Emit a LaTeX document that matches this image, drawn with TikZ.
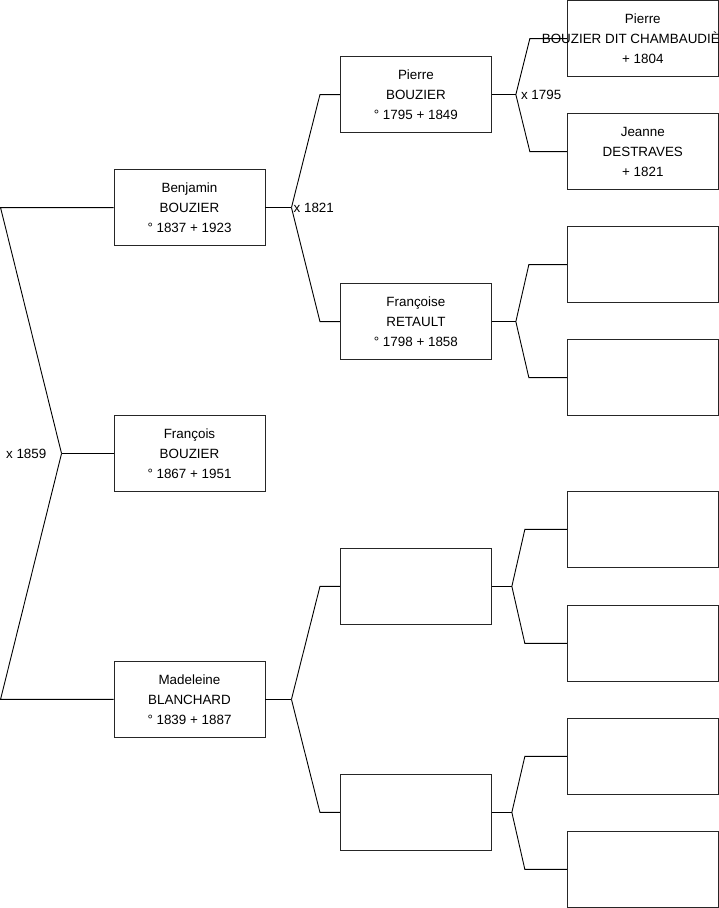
\documentclass[tikz,border=0pt]{standalone}
\usepackage{fontspec}
\setmainfont{Liberation Sans}
\usetikzlibrary{positioning}

\begin{document}
\begin{tikzpicture}[x=1pt,y=-1pt,
  person/.style={draw=black!85,line width=0.9pt,align=center,inner sep=0pt,
    minimum width=151pt,minimum height=76pt,
    font=\fontsize{13.4}{20}\selectfont},
  link/.style={draw=black,line width=0.9pt},
  mar/.style={inner sep=2pt,font=\fontsize{13.4}{20}\selectfont},
  node distance=74.5pt]
 \useasboundingbox (0,0) rectangle (719,908);
 % generation 0 and 1
 \node[person] (francois) at (189.5,453.5) {François\\BOUZIER\\° 1867 + 1951};
 \node[person,above=169pt of francois] (benjamin) {Benjamin\\BOUZIER\\° 1837 + 1923};
 \node[person,below=169pt of francois] (madeleine) {Madeleine\\BLANCHARD\\° 1839 + 1887};
 % generation 2
 \node[person,right=of benjamin,yshift=113pt] (pierre) {Pierre\\BOUZIER\\° 1795 + 1849};
 \node[person,right=of benjamin,yshift=-114pt] (francoise) {Françoise\\RETAULT\\° 1798 + 1858};
 \node[person,right=of madeleine,yshift=113pt] (mfather) {};
 \node[person,right=of madeleine,yshift=-113pt] (mmother) {};
 % generation 3
 \node[person,right=75pt of pierre,yshift=56pt] (pfather)
   {Pierre\\\makebox[0pt]{\hspace{-24pt}BOUZIER DIT CHAMBAUDIÈ}\\+ 1804};
 \node[person,right=75pt of pierre,yshift=-57pt] (pmother) {Jeanne\\DESTRAVES\\+ 1821};
 \node[person,right=75pt of francoise,yshift=57pt] (ffather) {};
 \node[person,right=75pt of francoise,yshift=-56pt] (fmother) {};
 \node[person,right=75pt of mfather,yshift=57pt] (mffather) {};
 \node[person,right=75pt of mfather,yshift=-57pt] (mfmother) {};
 \node[person,right=75pt of mmother,yshift=56pt] (mmfather) {};
 \node[person,right=75pt of mmother,yshift=-57pt] (mmmother) {};

 % couple of francois
 \coordinate (j0) at ([xshift=-52pt]francois.west);
 \draw[link] (francois.west) -- (j0);
 \draw[link] (j0) -- ([xshift=-113pt]benjamin.west) -- (benjamin.west);
 \draw[link] (j0) -- ([xshift=-113pt]madeleine.west) -- (madeleine.west);
 \node[mar,left=13pt of j0] (m1859) {x 1859};

 % couple of benjamin
 \draw[link] (benjamin.east) -- ++(26pt,0) coordinate (jb);
 \draw[link] (jb) -- ([xshift=-20pt]pierre.west) -- (pierre.west);
 \draw[link] (jb) -- ([xshift=-20pt]francoise.west) -- (francoise.west);
 \node[mar,anchor=west] (m1821) at (jb) {x 1821};

 % couple of madeleine
 \draw[link] (madeleine.east) -- ++(26pt,0) coordinate (jm);
 \draw[link] (jm) -- ([xshift=-20pt]mfather.west) -- (mfather.west);
 \draw[link] (jm) -- ([xshift=-20pt]mmother.west) -- (mmother.west);

 % couple of pierre
 \draw[link] (pierre.east) -- ++(24pt,0) coordinate (jp);
 \draw[link] (jp) -- ([xshift=-37pt]pfather.west) -- (pfather.west);
 \draw[link] (jp) -- ([xshift=-37pt]pmother.west) -- (pmother.west);
 \node[mar,anchor=west,xshift=3pt] (m1795) at (jp) {x 1795};

 % couple of francoise
 \draw[link] (francoise.east) -- ++(24pt,0) coordinate (jf);
 \draw[link] (jf) -- ([xshift=-38pt]ffather.west) -- (ffather.west);
 \draw[link] (jf) -- ([xshift=-38pt]fmother.west) -- (fmother.west);

 % unknown couples
 \foreach \c/\f/\m in {mfather/mffather/mfmother,mmother/mmfather/mmmother}{
   \draw[link] (\c.east) -- ++(20pt,0) coordinate (j\c);
   \draw[link] (j\c) -- ([xshift=-42pt]\f.west) -- (\f.west);
   \draw[link] (j\c) -- ([xshift=-42pt]\m.west) -- (\m.west);
 }
\end{tikzpicture}
\end{document}
